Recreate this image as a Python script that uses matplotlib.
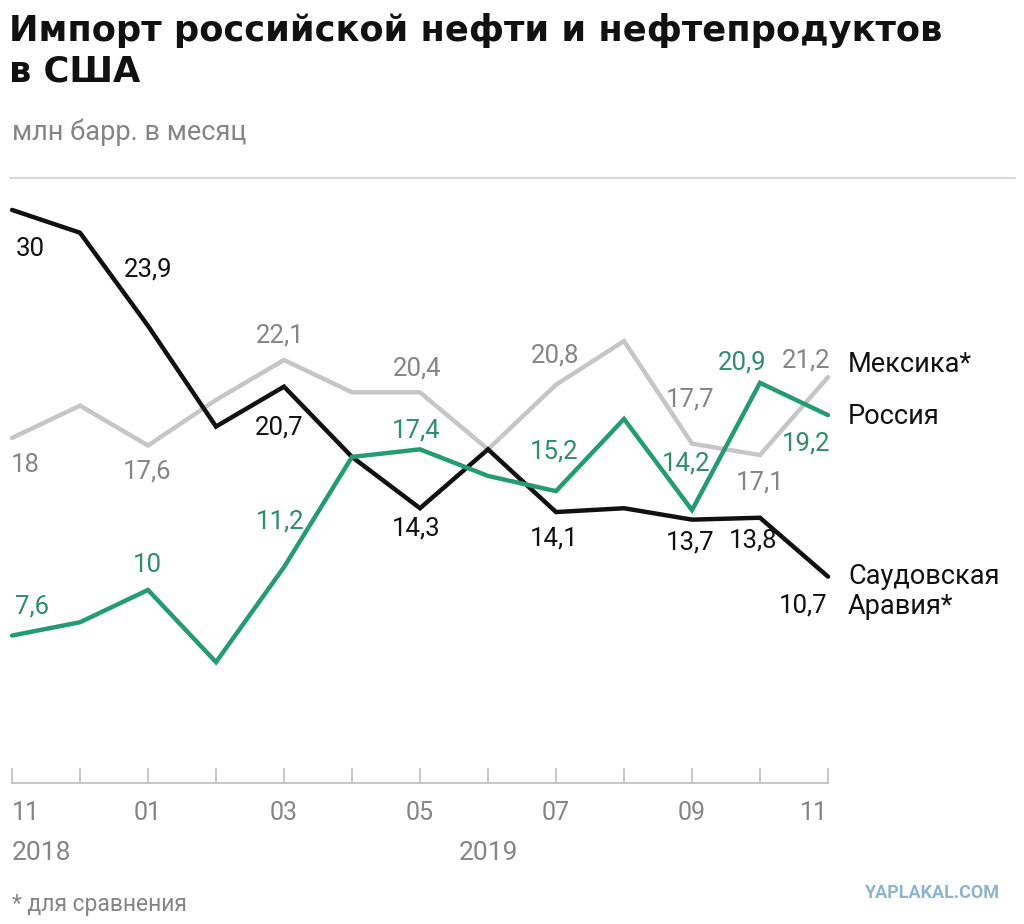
import matplotlib
matplotlib.use("Agg")
import matplotlib.pyplot as plt
from matplotlib.lines import Line2D

# Data: million barrels per month, Nov 2018 - Nov 2019
months = list(range(13))
tick_labels = ["11", "", "01", "", "03", "", "05", "", "07", "", "09", "", "11"]
mexico = [18, 19.7, 17.6, 20.0, 22.1, 20.4, 20.4, 17.4, 20.8, 23.1, 17.7, 17.1, 21.2]
russia = [7.6, 8.3, 10, 6.2, 11.2, 17.0, 17.4, 16.0, 15.2, 19.0, 14.2, 20.9, 19.2]
saudi = [30, 28.8, 23.9, 18.6, 20.7, 17.0, 14.3, 17.4, 14.1, 14.3, 13.7, 13.8, 10.7]

# which points get a value label, and where the label sits (pixel offsets)
mexico_labels = [(0, 13, -27), (2, -1, -26), (4, -4, 25), (6, -3, 24), (8, -1, 29),
                 (10, -2, 44), (11, 0, -27), (12, -22, 17)]
russia_labels = [(0, 20, 29), (2, -1, 25), (4, -4, 46), (6, -4, 19), (8, -2, 40),
                 (10, -6, 47), (11, -18, 20), (12, -22, -28)]
saudi_labels = [(0, 18, -39), (2, 0, 56), (4, -5, -41), (6, -4, -20), (8, -2, -26),
                (10, -2, -23), (11, -7, -23), (12, -25, -29)]

GRAY_LINE = "#c6c6c6"
GRAY_TEXT = "#858585"
GREEN = "#259b72"
GREEN_TEXT = "#2f8d6c"
BLACK = "#111111"
FONT = "Roboto"
NUM_SIZE = 18.5

W, H = 1024, 924
fig = plt.figure(figsize=(W / 100, H / 100), dpi=100)

# axes placed so that the data area matches the reference pixels
ax = fig.add_axes([12 / W, 1 - 783 / H, 816 / W, (783 - 178) / H])
ax.set_xlim(0, 12)
ax.set_ylim(-0.16, 31.68)
ax.patch.set_visible(False)
for side in ["top", "right", "left"]:
    ax.spines[side].set_visible(False)
ax.spines["bottom"].set_color("#bdbdbd")
ax.spines["bottom"].set_linewidth(1.2)
ax.set_yticks([])
ax.set_xticks(months)
ax.set_xticklabels(tick_labels, fontfamily=FONT, fontsize=18, color=GRAY_TEXT)
ax.tick_params(axis="x", direction="in", length=11, width=1.2, color="#bdbdbd", pad=13)
# first and last month labels hug the ends of the axis
ticks = ax.get_xticklabels()
ticks[0].set_horizontalalignment("left")
ticks[0].set_x(-0.02)
ticks[-1].set_horizontalalignment("right")
ticks[-1].set_x(12.02)


def fmt(v):
    return (f"{v:g}").replace(".", ",")


def draw(values, color, text_color, labels, z):
    ax.plot(months, values, color=color, lw=3.2, solid_joinstyle="miter",
            solid_capstyle="round", zorder=z, clip_on=False)
    for i, dx, dy in labels:
        ax.annotate(fmt(values[i]), (months[i], values[i]), xytext=(dx, dy),
                    textcoords="offset pixels", ha="center", va="center",
                    fontfamily=FONT, fontsize=NUM_SIZE, color=text_color, zorder=5)


draw(mexico, GRAY_LINE, GRAY_TEXT, mexico_labels, 2)
draw(saudi, BLACK, BLACK, saudi_labels, 3)
draw(russia, GREEN, GREEN_TEXT, russia_labels, 4)


def px(x, y):
    return x / W, 1 - y / H


# series names at the right end
for name, y in [("Мексика*", 365), ("Россия", 416), ("Саудовская", 577), ("Аравия*", 607)]:
    fig.text(*px(848, y), name, ha="left", va="center", fontfamily=FONT,
             fontsize=19.5, color=BLACK)

# title, subtitle, separator
fig.text(*px(9, 31), "Импорт российской нефти и нефтепродуктов", ha="left", va="center",
         fontfamily="DejaVu Sans", fontweight="bold", fontsize=25.4, color=BLACK)
fig.text(*px(9, 72), "в США", ha="left", va="center",
         fontfamily="DejaVu Sans", fontweight="bold", fontsize=25.4, color=BLACK)
fig.text(*px(12, 132), "млн барр. в месяц", ha="left", va="center",
         fontfamily=FONT, fontsize=19.5, color=GRAY_TEXT)
fig.add_artist(Line2D([10 / W, 1015 / W], [1 - 178 / H, 1 - 178 / H],
                      color="#d0d0d0", lw=1.2))

# years and footnote
fig.text(*px(12, 853), "2018", ha="left", va="center", fontfamily=FONT,
         fontsize=19, color=GRAY_TEXT)
fig.text(*px(488, 853), "2019", ha="center", va="center", fontfamily=FONT,
         fontsize=19, color=GRAY_TEXT)
fig.text(*px(12, 905), "* для сравнения", ha="left", va="center", fontfamily=FONT,
         fontsize=16.5, color=GRAY_TEXT)
fig.text(*px(1000, 893), "YAPLAKAL.COM", ha="right", va="center", fontfamily=FONT,
         fontweight="bold", fontsize=13, color="#8db4cf")

fig.savefig("out.png", dpi=100, facecolor="white")
